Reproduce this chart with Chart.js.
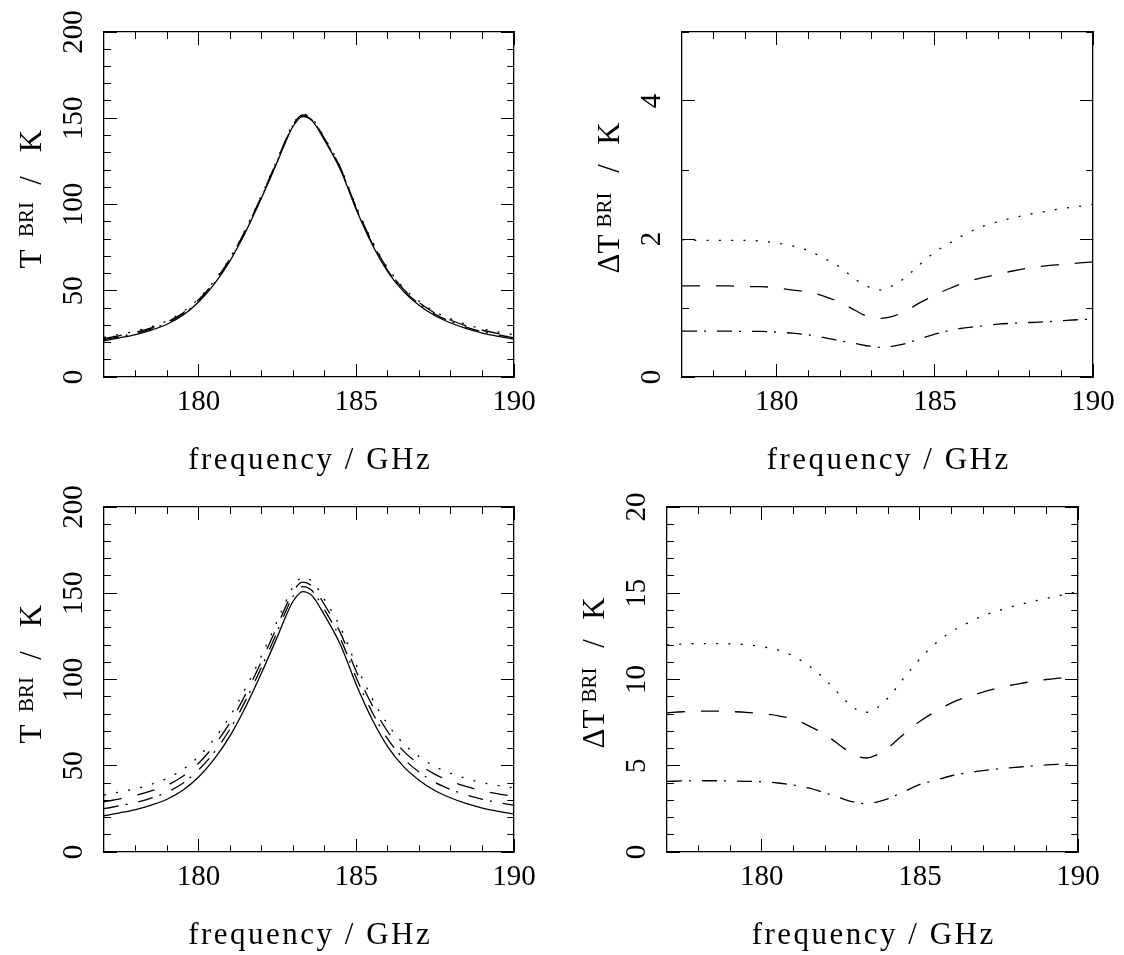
<!DOCTYPE html>
<html><head><meta charset="utf-8">
<script src="https://cdn.jsdelivr.net/npm/chart.js@4.4.1/dist/chart.umd.min.js"></script>
<style>
html,body{margin:0;padding:0;background:#fff;width:1124px;height:955px;overflow:hidden}
.p{position:absolute}
canvas{display:block}
</style></head><body>
<div class="p" style="left:0;top:0"><canvas id="c1" width="562" height="478"></canvas></div>
<div class="p" style="left:562px;top:0"><canvas id="c2" width="562" height="478"></canvas></div>
<div class="p" style="left:0;top:478px"><canvas id="c3" width="562" height="477"></canvas></div>
<div class="p" style="left:562px;top:478px"><canvas id="c4" width="562" height="477"></canvas></div>
<script>
// ---------- data ----------
const freq = [177,177.5,178,178.5,179,179.5,180,180.5,181,181.5,182,182.5,182.75,183,183.3,183.6,184,184.5,185,185.5,186,186.5,187,187.5,188,188.5,189,189.5,190];

const tSolid = [21,22.7,24.6,27.2,30.6,35.8,43.5,54,67.5,84.5,104,125,136,145.5,151,148.5,137,120,97,77,61,49.5,41.5,35.5,31.3,28,25.5,23.6,22];

// top-left panel
const t1Dotted  = [23.0,24.7,26.6,29.2,32.6,37.8,45.4,55.9,69.3,86.2,105.6,126.4,137.3,146.8,152.3,149.8,138.4,121.6,98.8,79.0,63.1,51.7,43.8,37.8,33.7,30.4,27.9,26.1,24.5];
const t1Dashed  = [22.3,24.0,25.9,28.5,31.9,37.1,44.8,55.3,68.7,85.7,105.1,126.0,136.9,146.4,151.9,149.4,137.9,121.1,98.2,78.3,62.4,50.9,43.0,37.0,32.9,29.6,27.1,25.25,23.7];
const t1DashDot = [21.7,23.4,25.3,27.9,31.3,36.5,44.2,54.6,68.1,85.1,104.5,125.5,136.5,145.9,151.4,148.9,137.5,120.6,97.6,77.7,61.7,50.2,42.3,36.3,32.1,28.8,26.3,24.4,22.8];

// top-right panel
const d1Dotted  = [1.99,1.98,1.98,1.98,1.98,1.97,1.94,1.90,1.83,1.72,1.59,1.41,1.34,1.29,1.26,1.31,1.42,1.62,1.81,1.95,2.08,2.18,2.25,2.31,2.36,2.40,2.44,2.47,2.50];
const d1Dashed  = [1.32,1.32,1.32,1.32,1.31,1.31,1.29,1.26,1.23,1.17,1.08,0.96,0.90,0.87,0.85,0.87,0.94,1.07,1.19,1.29,1.38,1.44,1.49,1.54,1.58,1.61,1.63,1.65,1.67];
const d1DashDot = [0.665,0.665,0.665,0.665,0.66,0.66,0.65,0.635,0.61,0.57,0.525,0.485,0.46,0.445,0.43,0.44,0.475,0.55,0.62,0.68,0.715,0.74,0.765,0.78,0.79,0.80,0.815,0.83,0.84];

// bottom-left panel
const t3Dotted  = [33.0,34.8,36.7,39.3,42.7,47.8,55.4,65.7,78.9,95.3,114.0,134.1,144.6,153.8,159.1,156.8,146.0,130.1,108.2,89.1,73.8,62.8,55.2,49.5,45.6,42.5,40.2,38.5,37.1];
const t3Dashed  = [29.1,30.8,32.8,35.4,38.7,43.9,51.5,61.9,75.2,91.8,110.8,131.2,141.8,151.1,156.5,154.1,143.1,126.9,104.6,85.2,69.7,58.5,50.8,45.0,41.0,37.9,35.5,33.7,32.2];
const t3DashDot = [25.1,26.8,28.7,31.3,34.7,39.9,47.6,58.0,71.4,88.2,107.4,128.1,139.0,148.4,153.8,151.4,140.1,123.5,100.9,81.2,65.4,54.1,46.2,40.3,36.2,33.0,30.55,28.7,27.15];

// bottom-right panel
const d3Dotted  = [12.0,12.05,12.08,12.08,12.07,12.02,11.9,11.72,11.35,10.78,10.0,9.05,8.6,8.25,8.1,8.3,8.95,10.1,11.2,12.1,12.78,13.27,13.7,14.0,14.27,14.5,14.7,14.9,15.1];
const d3Dashed  = [8.07,8.13,8.16,8.17,8.14,8.1,8.02,7.9,7.7,7.3,6.8,6.15,5.8,5.55,5.45,5.6,6.05,6.85,7.58,8.15,8.65,9.0,9.27,9.53,9.7,9.87,10.0,10.1,10.2];
const d3DashDot = [4.09,4.12,4.13,4.13,4.12,4.1,4.07,4.0,3.88,3.7,3.42,3.12,2.97,2.86,2.8,2.88,3.1,3.5,3.92,4.16,4.42,4.59,4.72,4.82,4.9,4.98,5.05,5.1,5.15];

// axis ticks
const xTicks = [178,179,180,181,182,183,184,185,186,187,188,189,190];
const xMajor = [180,185,190];
const yTicksT = [0,10,20,30,40,50,60,70,80,90,100,110,120,130,140,150,160,170,180,190,200];
const yMajorT = [0,50,100,150,200];
const yTicksD1 = [0,1,2,3,4,5];
const yMajorD1 = [0,2,4];
const yTicksD3 = [0,1,2,3,4,5,6,7,8,9,10,11,12,13,14,15,16,17,18,19,20];
const yMajorD3 = [0,5,10,15,20];

const xTitle = 'frequency / GHz';

// ---------- styles ----------
const FAMILY = "'Liberation Serif', serif";
const TICK_SIZE = 29;
const TITLE_SIZE = 31;
const SUP_SIZE = 21;
const MAJ = 13, MIN = 7;
const STYLE = {
  solid:   [],
  dashed:  [18, 16],
  dashdot: [15, 7, 2, 11],
  dotted:  [2, 10.3]
};

function pts(arr){ return freq.map((f,i)=>({x:f, y:arr[i]})); }
function ds(arr, style){
  return {data: pts(arr), borderColor:'#000', borderWidth:1.3, borderDash:STYLE[style],
          pointRadius:0, fill:false, cubicInterpolationMode:'monotone', borderCapStyle:'butt'};
}

const mctx = document.createElement('canvas').getContext('2d');
function textW(s, size){ mctx.font = size + 'px ' + FAMILY; return mctx.measureText(s).width; }

// y-title pieces: centre offsets along the (rotated) text direction
const yTitleT  = [{t:'T', s:TITLE_SIZE, c:-59, dy:0}, {t:'BRI', s:SUP_SIZE, c:-19.5, dy:-8}, {t:'/', s:TITLE_SIZE, c:19.5, dy:0}, {t:'K', s:TITLE_SIZE, c:59, dy:0}];
const yTitleDT = [{t:'\u0394T', s:TITLE_SIZE, c:-54, dy:0}, {t:'BRI', s:SUP_SIZE, c:-10, dy:-8}, {t:'/', s:TITLE_SIZE, c:31.5, dy:0}, {t:'K', s:TITLE_SIZE, c:66.5, dy:0}];

function titlesPlugin(parts){
  return {
    id:'titles',
    afterDraw(chart){
      const ctx = chart.ctx, a = chart.chartArea;
      ctx.save();
      ctx.fillStyle = '#000';
      ctx.font = TITLE_SIZE + 'px ' + FAMILY;
      try { ctx.letterSpacing = '2.5px'; } catch(e){}
      ctx.textAlign = 'center';
      ctx.textBaseline = 'middle';
      ctx.fillText(xTitle, (a.left + a.right)/2 + 1.2, a.bottom + 84);
      try { ctx.letterSpacing = '0px'; } catch(e){}
      ctx.translate(a.left - 63, (a.top + a.bottom)/2 - 4.5);
      ctx.rotate(-Math.PI/2);
      ctx.textAlign = 'center';
      ctx.textBaseline = 'alphabetic';
      parts.forEach(p => {
        ctx.font = p.s + 'px ' + FAMILY;
        ctx.fillText(p.t, p.c, p.dy);
      });
      ctx.restore();
    }
  };
}

function noPad(s){ s.paddingTop = 0; s.paddingBottom = 0; s.paddingLeft = 0; s.paddingRight = 0; }

function makeChart(id, opt){
  const tickFont = {family: FAMILY, size: TICK_SIZE};
  const lh = TICK_SIZE * 1.2;
  const widest = Math.max(...opt.yMajor.map(v => textW(String(v), TICK_SIZE)));
  const dashFar  = (major) => (c) => (c.tick && major.includes(c.tick.value)) ? [] : [MIN, 100];
  const dashNear = (major) => (c) => (c.tick && major.includes(c.tick.value)) ? [] : [0, MAJ - MIN, MIN, 100];
  const gridBase = {drawOnChartArea:false, drawTicks:true, tickLength:-MAJ, tickWidth:1, tickColor:'#000', lineWidth:1};
  const xB = (s) => { s.ticks = xTicks.map(v => ({value:v})); };
  const yB = (s) => { s.ticks = opt.yTicks.map(v => ({value:v})); };
  return new Chart(document.getElementById(id), {
    type:'line',
    data:{datasets: opt.sets},
    options:{
      responsive:false, animation:false, devicePixelRatio:1,
      layout:{autoPadding:false, padding:{left:0, top:opt.top, right:opt.right, bottom:0}},
      plugins:{legend:{display:false}, tooltip:{enabled:false}},
      scales:{
        x:{type:'linear', position:'bottom', min:177, max:190, afterBuildTicks:xB,
           afterFit:(s)=>{ s.height = opt.xH; noPad(s); },
           ticks:{autoSkip:false, maxRotation:0, minRotation:0, color:'#000', font:tickFont,
                  padding: MAJ + 25 - lh/2, callback:(v)=> xMajor.includes(v) ? String(v) : ''},
           grid:Object.assign({}, gridBase, {tickBorderDash: dashFar(xMajor)}),
           border:{display:true, color:'#000', width:1.3}},
        x2:{type:'linear', position:'top', min:177, max:190, afterBuildTicks:xB,
           afterFit:(s)=>{ s.height = 0; noPad(s); },
           ticks:{display:false, autoSkip:false},
           grid:Object.assign({}, gridBase, {tickBorderDash: dashNear(xMajor)}),
           border:{display:true, color:'#000', width:1.3}},
        y:{type:'linear', position:'left', min:opt.yMin, max:opt.yMax, afterBuildTicks:yB,
           afterFit:(s)=>{ s.width = opt.yW; noPad(s); },
           ticks:{autoSkip:false, minRotation:90, maxRotation:90, crossAlign:'center', color:'#000', font:tickFont,
                  padding: MAJ + 30 - widest/2, callback:(v)=> opt.yMajor.includes(v) ? String(v) : ''},
           grid:Object.assign({}, gridBase, {tickBorderDash: dashNear(opt.yMajor)}),
           border:{display:true, color:'#000', width:1.3}},
        y2:{type:'linear', position:'right', min:opt.yMin, max:opt.yMax, afterBuildTicks:yB,
           afterFit:(s)=>{ s.width = 0; noPad(s); },
           ticks:{display:false, autoSkip:false},
           grid:Object.assign({}, gridBase, {tickBorderDash: dashFar(opt.yMajor)}),
           border:{display:true, color:'#000', width:1.3}}
      }
    },
    plugins:[titlesPlugin(opt.yTitle)]
  });
}

makeChart('c1', {top:32, right:48, yW:104, xH:101, yMin:0, yMax:200, yTicks:yTicksT, yMajor:yMajorT, yTitle:yTitleT,
  sets:[ds(t1Dotted,'dotted'), ds(t1Dashed,'dashed'), ds(t1DashDot,'dashdot'), ds(tSolid,'solid')]});
makeChart('c2', {top:32, right:31, yW:120, xH:101, yMin:0, yMax:5, yTicks:yTicksD1, yMajor:yMajorD1, yTitle:yTitleDT,
  sets:[ds(d1Dotted,'dotted'), ds(d1Dashed,'dashed'), ds(d1DashDot,'dashdot')]});
makeChart('c3', {top:29, right:48, yW:104, xH:103, yMin:0, yMax:200, yTicks:yTicksT, yMajor:yMajorT, yTitle:yTitleT,
  sets:[ds(t3Dotted,'dotted'), ds(t3Dashed,'dashed'), ds(t3DashDot,'dashdot'), ds(tSolid,'solid')]});
makeChart('c4', {top:29, right:46, yW:105, xH:103, yMin:0, yMax:20, yTicks:yTicksD3, yMajor:yMajorD3, yTitle:yTitleDT,
  sets:[ds(d3Dotted,'dotted'), ds(d3Dashed,'dashed'), ds(d3DashDot,'dashdot')]});
</script>
</body></html>
